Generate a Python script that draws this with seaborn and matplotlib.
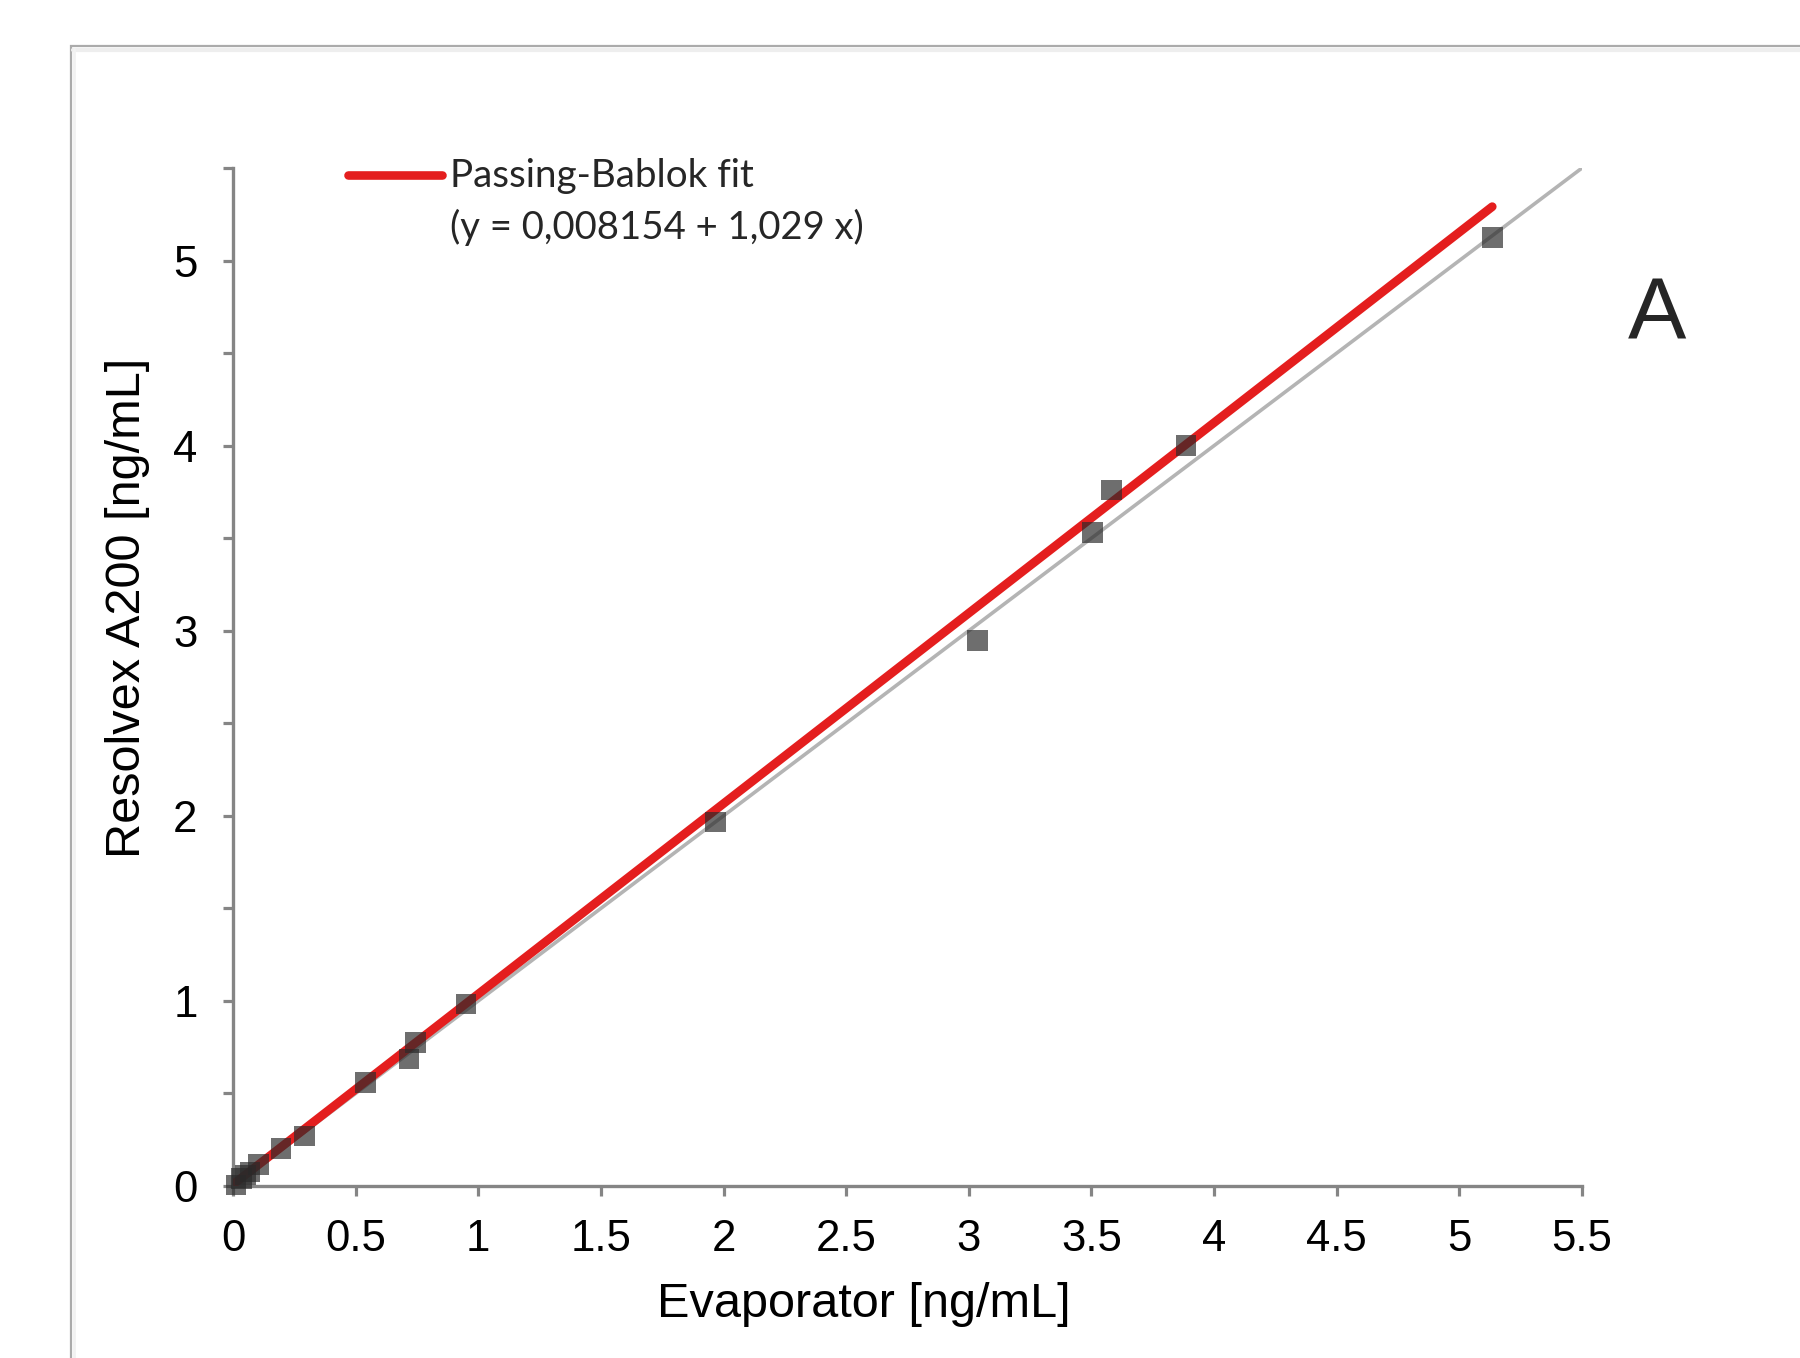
import numpy as np
import pandas as pd
import matplotlib
matplotlib.use("Agg")
import matplotlib.pyplot as plt
from matplotlib.lines import Line2D
from matplotlib.patches import Rectangle
from matplotlib.ticker import MultipleLocator, FixedLocator, FixedFormatter
import seaborn as sns

# Paired measurements (ng/mL)
evaporator = [5.134, 3.885, 3.582, 3.505, 3.036, 1.966, 0.950, 0.745, 0.717,
              0.541, 0.291, 0.196, 0.104, 0.070, 0.050, 0.035, 0.012]
resolvex = [5.125, 4.001, 3.760, 3.530, 2.946, 1.967, 0.983, 0.774, 0.686,
            0.558, 0.270, 0.204, 0.116, 0.075, 0.060, 0.040, 0.005]

# Passing-Bablok regression coefficients
pb_intercept = 0.008154
pb_slope = 1.029

x_ticks = [0, 0.5, 1, 1.5, 2, 2.5, 3, 3.5, 4, 4.5, 5, 5.5]
x_tick_labels = ["0", "0.5", "1", "1.5", "2", "2.5", "3", "3.5", "4", "4.5", "5", "5.5"]
y_ticks = [0, 1, 2, 3, 4, 5]
y_tick_labels = ["0", "1", "2", "3", "4", "5"]
axis_range = [0, 5.5]

legend_label = "Passing-Bablok fit"
legend_equation = "(y = 0,008154 + 1,029 x)"
panel_letter = "A"

sns.set_style("ticks")
plt.rcParams["font.family"] = ["Liberation Sans", "DejaVu Sans"]

W, H = 1800, 1358
fig = plt.figure(figsize=(W / 100, H / 100), dpi=100)
fig.patch.set_facecolor("white")

# outer frame of the chart area
fig.add_artist(Rectangle((71 / W, -0.05), 1.2, 1 - 46 / H + 0.05, transform=fig.transFigure,
                         facecolor="none", edgecolor="#ababab", lw=1.6, zorder=0))
fig.add_artist(Line2D([73 / W, 1], [1 - 49.5 / H] * 2, transform=fig.transFigure,
                      color="#eeeeee", lw=3, zorder=0))
fig.add_artist(Line2D([73.5 / W] * 2, [0, 1 - 49 / H], transform=fig.transFigure,
                      color="#f2f2f2", lw=2, zorder=0))

ax = fig.add_axes([233 / W, 1 - 1186 / H, (1582 - 233) / W, (1186 - 168) / H])
ax.set_facecolor("none")

pts = pd.DataFrame({"Evaporator": evaporator, "Resolvex": resolvex})

# line of identity
ident = pd.DataFrame({"x": axis_range, "y": axis_range})
sns.lineplot(data=ident, x="x", y="y", ax=ax, color="#b4b4b4", lw=2.6, zorder=2)

# Passing-Bablok fit over the measured range
fx = np.array([min(evaporator), max(evaporator)])
fit = pd.DataFrame({"x": fx, "y": pb_intercept + pb_slope * fx})
sns.lineplot(data=fit, x="x", y="y", ax=ax, color="#e41e1e", lw=6.3,
             solid_capstyle="round", zorder=3)

sns.scatterplot(data=pts, x="Evaporator", y="Resolvex", ax=ax, marker="s",
                s=220, color="#2a2a2a", alpha=0.68, edgecolor="none",
                linewidth=0, zorder=4, clip_on=False)

ax.set_xlim(axis_range)
ax.set_ylim(axis_range)

spine_c = "#858585"
for side in ["top", "right"]:
    ax.spines[side].set_visible(False)
for side in ["left", "bottom"]:
    ax.spines[side].set_color(spine_c)
    ax.spines[side].set_linewidth(2.4)

ax.xaxis.set_major_locator(FixedLocator(x_ticks))
ax.xaxis.set_major_formatter(FixedFormatter(x_tick_labels))
ax.yaxis.set_major_locator(FixedLocator(y_ticks))
ax.yaxis.set_major_formatter(FixedFormatter(y_tick_labels))
ax.yaxis.set_minor_locator(MultipleLocator(0.5))

ax.tick_params(axis="both", which="both", direction="out", length=7.5, width=2.3,
               color=spine_c, labelsize=31.5, labelcolor="black")
ax.tick_params(axis="x", which="major", pad=16)
ax.tick_params(axis="y", which="major", pad=18)

ax.set_xlabel("Evaporator [ng/mL]", fontsize=35, color="black")
ax.set_ylabel("Resolvex A200 [ng/mL]", fontsize=35, color="black")
ax.xaxis.set_label_coords((864 - 233) / (1582 - 233), (1186 - 1282) / (1186 - 168))
ax.yaxis.set_label_coords((150 - 233) / (1582 - 233), (1186 - 608) / (1186 - 168))

# legend
fig.add_artist(Line2D([348 / W, 442 / W], [1 - 175 / H] * 2, transform=fig.transFigure,
                      color="#e41e1e", lw=6.2, solid_capstyle="round"))
fig.text(450 / W, 1 - 187 / H, legend_label, fontsize=27.8, family="Lato",
         va="baseline", ha="left")
fig.text(450 / W, 1 - 239 / H, legend_equation, fontsize=27.5, family="Lato",
         va="baseline", ha="left")

fig.text(1657 / W, 1 - 317 / H, panel_letter, fontsize=63, ha="center", va="center")

fig.savefig("out.png", dpi=100, facecolor="white")
